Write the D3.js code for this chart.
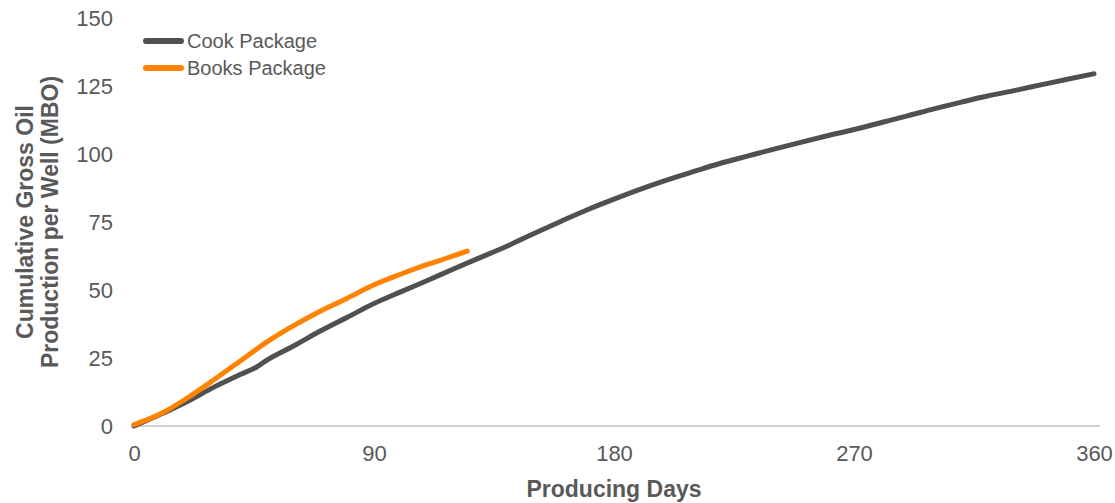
<!DOCTYPE html>
<html>
<head>
<meta charset="utf-8">
<script src="https://cdn.jsdelivr.net/npm/d3@7"></script>
<style>
  html, body { margin: 0; padding: 0; background: #fff; }
  svg { display: block; font-family: "Liberation Sans", Arial, sans-serif; }
</style>
</head>
<body>
<svg id="chart" width="1115" height="503"></svg>
<script>
const seriesNames = ["Cook Package", "Books Package"];
const cookDays = [0, 10, 20, 30, 40, 46, 50, 60, 70, 80, 90, 100, 110, 120, 130, 140, 150, 160, 170, 180, 190, 200, 210, 220, 230, 240, 250, 260, 270, 280, 290, 300, 310, 320, 330, 340, 350, 360];
const cookValues = [0, 4.3, 9, 14.3, 19, 21.7, 24.3, 29.5, 35, 40, 45, 49.3, 53.5, 57.8, 62, 66.2, 70.8, 75.2, 79.5, 83.4, 87.1, 90.5, 93.6, 96.6, 99.2, 101.8, 104.3, 106.7, 109, 111.5, 114, 116.6, 119, 121.3, 123.3, 125.4, 127.5, 129.5];
const booksDays = [0, 10, 20, 30, 40, 50, 60, 70, 80, 90, 100, 110, 120, 125];
const booksValues = [0.5, 4.5, 10.3, 17, 24, 31, 37, 42.3, 47, 51.9, 55.8, 59.4, 62.6, 64.3];
const xTicks = [0, 90, 180, 270, 360];
const yTicks = [0, 25, 50, 75, 100, 125, 150];
const colors = ["#505050", "#FF8300"];

const svg = d3.select("#chart");
const x = d3.scaleLinear().domain([0, 360]).range([134, 1094]);
const y = d3.scaleLinear().domain([0, 150]).range([426, 18]);

// x axis baseline
svg.append("line")
  .attr("x1", x(0)).attr("x2", 1100)
  .attr("y1", y(0)).attr("y2", y(0))
  .attr("stroke", "#d0d0d0").attr("stroke-width", 2);

// y tick labels
const yAxis = d3.axisLeft(y).tickValues(yTicks).tickSize(0).tickPadding(0);
const gy = svg.append("g").attr("transform", "translate(113,0)").call(yAxis);
gy.select(".domain").remove();
gy.selectAll("text").attr("font-size", 22).attr("fill", "#595959")
  .attr("font-family", "Liberation Sans, Arial, sans-serif").attr("dy", "0.35em");

// x tick labels
const xAxis = d3.axisBottom(x).tickValues(xTicks).tickSize(0).tickPadding(0);
const gx = svg.append("g").attr("transform", "translate(0,445)").call(xAxis);
gx.select(".domain").remove();
gx.selectAll("text").attr("font-size", 22).attr("fill", "#595959")
  .attr("font-family", "Liberation Sans, Arial, sans-serif").attr("dy", "0.71em");

// axis titles
svg.append("text").attr("x", 614).attr("y", 497)
  .attr("text-anchor", "middle").attr("font-size", 23).attr("font-weight", "bold")
  .attr("fill", "#595959").text("Producing Days");

const yt = svg.append("g").attr("transform", "translate(0,222) rotate(-90)");
yt.append("text").attr("x", 0).attr("y", 33).attr("text-anchor", "middle")
  .attr("font-size", 23).attr("font-weight", "bold").attr("fill", "#595959")
  .text("Cumulative Gross Oil");
yt.append("text").attr("x", 0).attr("y", 58).attr("text-anchor", "middle")
  .attr("font-size", 23).attr("font-weight", "bold").attr("fill", "#595959")
  .text("Production per Well (MBO)");

// lines
const line = d3.line().x(d => x(d[0])).y(d => y(d[1])).curve(d3.curveMonotoneX);
const cook = cookDays.map((d, i) => [d, cookValues[i]]);
const books = booksDays.map((d, i) => [d, booksValues[i]]);
[cook, books].forEach((data, i) => {
  svg.append("path").datum(data).attr("d", line)
    .attr("fill", "none").attr("stroke", colors[i]).attr("stroke-width", 5)
    .attr("stroke-linecap", "round").attr("stroke-linejoin", "round");
});

// legend
seriesNames.forEach((name, i) => {
  const ly = 41 + i * 27;
  svg.append("line").attr("x1", 146).attr("x2", 181).attr("y1", ly).attr("y2", ly)
    .attr("stroke", colors[i]).attr("stroke-width", 6).attr("stroke-linecap", "round");
  svg.append("text").attr("x", 187).attr("y", ly).attr("dy", "0.35em")
    .attr("font-size", 20).attr("fill", "#595959").text(name);
});
</script>
</body>
</html>
